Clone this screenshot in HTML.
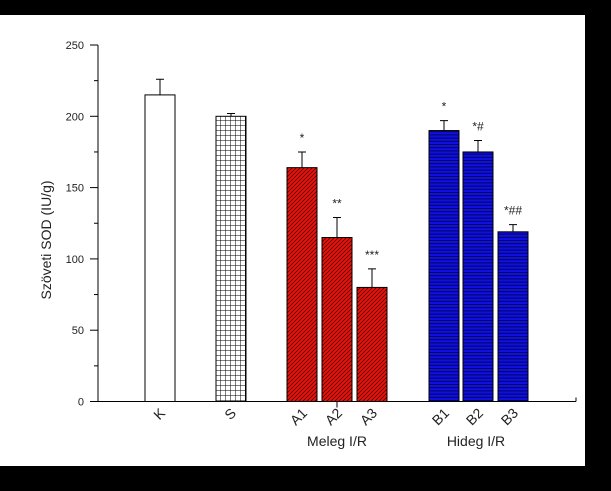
<!DOCTYPE html>
<html><head><meta charset="utf-8"><style>
body{margin:0;background:#000;}
svg{display:block;font-family:"Liberation Sans",Arial,sans-serif;}
</style></head><body>
<svg width="611" height="491" xmlns="http://www.w3.org/2000/svg">
<defs>
<pattern id="grid" width="5" height="5" patternUnits="userSpaceOnUse"><rect width="5" height="5" fill="#fff"/><path d="M0 0H5M0 0V5" stroke="#000" stroke-width="1"/></pattern>
<pattern id="diag" width="4" height="4" patternUnits="userSpaceOnUse"><rect width="4" height="4" fill="#e8140c"/><path d="M-1 5L5 -1M-1 1L1 -1M3 5L5 3" stroke="#5a0000" stroke-width="0.8"/></pattern>
<pattern id="horiz" width="4" height="3.2" patternUnits="userSpaceOnUse"><rect width="4" height="3.2" fill="#1010e0"/><path d="M0 0.5H4" stroke="#000050" stroke-width="0.9"/></pattern>
</defs>
<rect x="0" y="15" width="585" height="451" fill="#fff"/>
<g id="axes"></g>
<g id="bars"></g>
<text transform="translate(51,240) rotate(-90)" text-anchor="middle" font-size="14" fill="#222">Szöveti SOD (IU/g)</text>
<text x="337" y="446" text-anchor="middle" font-size="14" fill="#222">Meleg I/R</text>
<text x="476" y="446" text-anchor="middle" font-size="14" fill="#222">Hideg I/R</text>
</svg>
<script>
const categories=["K","S","A1","A2","A3","B1","B2","B3"];
const values=[215,200,164,115,80,190,175,119];
const errors=[11,2,11,14,13,7,8,5];
const marks=["","","*","**","***","*","*#","*##"];
const yTicks=[0,50,100,150,200,250];
const NS="http://www.w3.org/2000/svg";
const barLeft=[145,216,287,322,357,429,463,498];
const barW=30;
const fills=["#fff","url(#grid)","url(#diag)","url(#diag)","url(#diag)","url(#horiz)","url(#horiz)","url(#horiz)"];
const y0=401.5,yTop=45,vMax=250;
function y(v){return y0-(v/vMax)*(y0-yTop);}
function mk(tag,attrs,parent,txt){const e=document.createElementNS(NS,tag);for(const k in attrs)e.setAttribute(k,attrs[k]);if(txt!==undefined)e.textContent=txt;parent.appendChild(e);return e;}
const ax=document.getElementById('axes');
let e=mk('line',{x1:98,y1:y(0),x2:98,y2:y(250),stroke:'#000'},ax);

e=mk('line',{x1:98,y1:y(0),x2:576,y2:y(0),stroke:'#000'},ax);

mk('line',{x1:576,y1:y(0),x2:576,y2:y(0)-4,stroke:'#000'},ax);
mk('line',{x1:337,y1:y(0),x2:337,y2:y(0)+6,stroke:'#000'},ax);
for(let v=0;v<=250;v+=25){const major=v%50===0;mk('line',{x1:major?90:94,y1:y(v),x2:98,y2:y(v),stroke:'#000'},ax);}
yTicks.forEach(t=>{const l=mk('text',{x:84,y:y(t)+4,'text-anchor':'end','font-size':'11',fill:'#222'},ax,String(t));
});
const bg=document.getElementById('bars');
categories.forEach((c,i)=>{
 const x=barLeft[i],top=y(values[i]),cx=x+barW/2;
 const r=mk('rect',{x:x,y:top,width:barW,height:y(0)-top,fill:fills[i],stroke:'#000','stroke-width':1},bg);
 
 const et=y(values[i]+errors[i]);
 const eb=mk('path',{d:`M${cx} ${top}V${et}M${cx-4} ${et}H${cx+4}`,stroke:'#000',fill:'none'},bg);
 
 if(marks[i]){const m=mk('text',{x:cx,y:et-10,'text-anchor':'middle','font-size':'12',fill:'#222'},bg,marks[i]);
 }
 const t=mk('text',{transform:`translate(${cx+6},${414}) rotate(-45)`,'text-anchor':'end','font-size':'14',fill:'#222'},bg,c);
 
});
</script>
</body></html>
